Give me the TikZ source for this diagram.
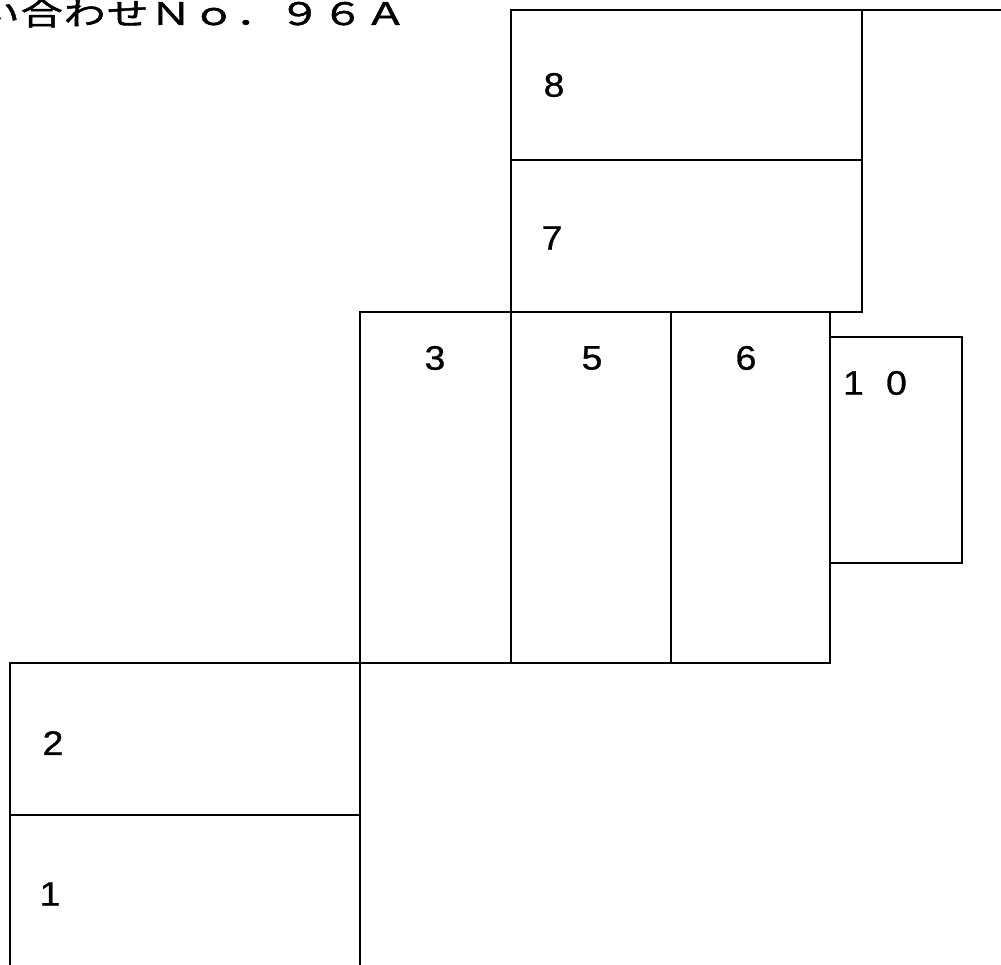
\documentclass[tikz,border=0pt]{standalone}
\usepackage{fontspec}
\setmainfont{Liberation Sans}[FakeStretch=1.1,FakeBold=0.8]
\newfontfamily\jpfont{Noto Sans CJK JP}[FakeStretch=1.35,FakeBold=1.5]
\usetikzlibrary{positioning}
\newcommand{\cell}[1]{\makebox[43pt]{#1}}

\begin{document}
\begin{tikzpicture}[x=1pt,y=-1pt,line width=1.6pt,
  lbl/.style={inner sep=0pt,font=\fontsize{34}{34}\selectfont}]
  \useasboundingbox (0,0) rectangle (1001,965);
  % upper block, 8 over 7
  \draw (511,10) rectangle (862,312); \draw (511,160) -- (862,160);
  \draw (862,10) -- (1001,10);
  % middle row 3, 5, 6 and the small 10
  \draw (360,312) rectangle (830,663);
  \draw (511,312) -- (511,663); \draw (671,312) -- (671,663);
  \draw (830,337) rectangle (962,563);
  % lower block, 2 over 1
  \draw (10,965) -- (10,663) -- (360,663) -- (360,965);
  \draw (10,815) -- (360,815);
  \node[anchor=base west,inner sep=0pt,font=\jpfont\fontsize{31}{31}\selectfont] (title) at (-23.5,25)
    {\cell{い}\cell{合}\cell{わ}\cell{せ}\cell{Ｎ}\cell{ｏ}\cell{．}\cell{９}\cell{６}\cell{Ａ}};
  \node[lbl] (n8) at (554,85) {8};
  \node[lbl] (n7) at (552,238) {7};
  \node[lbl] (n3) at (435,358) {3};
  \node[lbl] (n5) at (592,358) {5};
  \node[lbl] (n6) at (746,358) {6};
  \node[lbl] (n10) at (875,383) {\cell{1}\cell{0}};
  \node[lbl] (n2) at (53,743) {2};
  \node[lbl] (n1) at (50,894) {1};
\end{tikzpicture}
\end{document}
